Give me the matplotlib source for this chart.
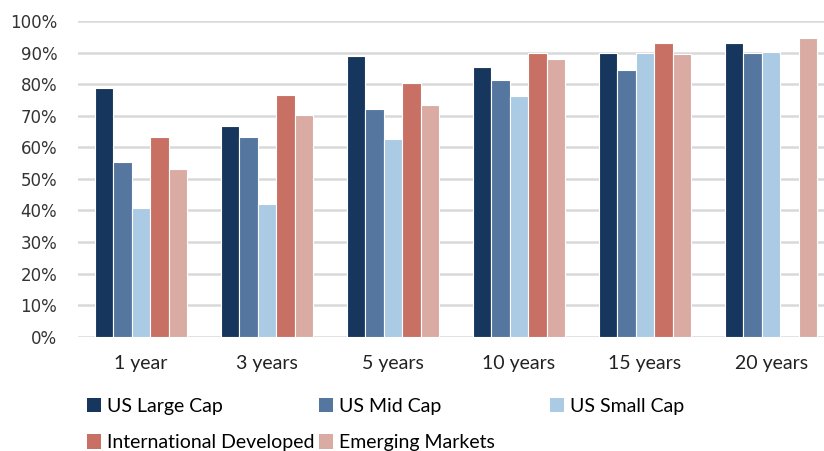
import matplotlib.pyplot as plt
import numpy as np
from matplotlib.patches import Patch

periods = ["1 year", "3 years", "5 years", "10 years", "15 years", "20 years"]
series = ["US Large Cap", "US Mid Cap", "US Small Cap", "International Developed", "Emerging Markets"]

us_large = [78.9, 66.8, 88.8, 85.5, 90.0, 92.9]
us_mid = [55.4, 63.2, 72.1, 81.2, 84.6, 90.0]
us_small = [40.7, 42.0, 62.7, 76.1, 90.0, 90.3]
intl_dev = [63.2, 76.5, 80.3, 90.0, 92.9, 0.0]
emerging = [53.1, 70.1, 73.5, 87.9, 89.6, 94.5]

colors = ["#17365D", "#55769E", "#ABCAE4", "#C87063", "#D9ABA3"]

plt.rcParams['font.family'] = ['Lato', 'DejaVu Sans']

fig = plt.figure(figsize=(8.24, 4.51), dpi=100)
ax = fig.add_axes([78 / 824, 1 - 336.7 / 451, 1 - 78 / 824, (336.7 - 21) / 451])

x = np.arange(len(periods))
w = 0.147
all_vals = [us_large, us_mid, us_small, intl_dev, emerging]
for i, vals in enumerate(all_vals):
    ax.bar(x + (i - 2) * w, np.array(vals) / 100, width=w, color=colors[i],
           edgecolor="white", linewidth=0.8, zorder=3)

ax.set_ylim(0, 1)
ax.set_xlim(-0.5, 5.42)
ax.set_yticks(np.arange(0, 1.01, 0.1))
ax.set_yticklabels([f"{int(round(v * 100))}%" for v in np.arange(0, 1.01, 0.1)],
                   fontsize=12, family=['DejaVu Sans'], color="#333333")
ax.set_xticks(x)
ax.set_xticklabels(periods, fontsize=14, color="#222222")
ax.tick_params(axis='both', length=0)
ax.tick_params(axis='x', pad=13)
ax.tick_params(axis='y', pad=15)
ax.yaxis.grid(True, color="#D9D9D9", linewidth=1.8, zorder=0)
ax.set_axisbelow(True)
for s in ax.spines.values():
    s.set_visible(False)

# legend laid out as three columns, like the Excel one
handles = [Patch(facecolor=c) for c in colors]
columns = [[0, 3], [1, 4], [2]]
col_x = [77, 309, 540]
for idx, cx in zip(columns, col_x):
    fig.legend([handles[i] for i in idx], [series[i] for i in idx],
               loc="upper left", bbox_to_anchor=(cx / 824, 1 - 388 / 451),
               frameon=False, fontsize=14, handlelength=0.75, handleheight=0.75,
               handletextpad=0.3, labelspacing=1.0, borderpad=0.0)

fig.savefig("out.png", dpi=100)
